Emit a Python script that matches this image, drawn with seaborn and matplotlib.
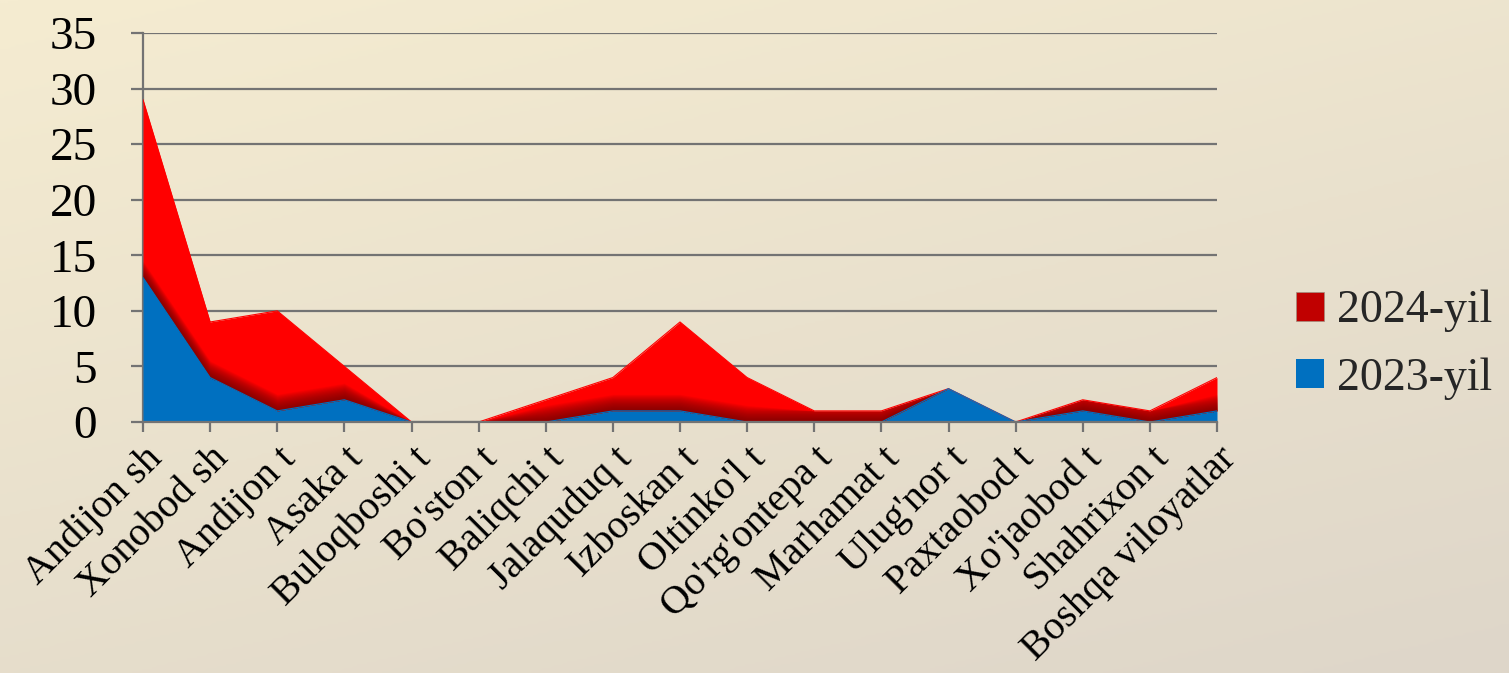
import numpy as np
import pandas as pd
import seaborn as sns
import matplotlib.pyplot as plt
from matplotlib.patches import Patch
from matplotlib.colors import LinearSegmentedColormap

# tumanlar / shaharlar
districts = ["Andijon sh", "Xonobod sh", "Andijon t", "Asaka t", "Buloqboshi t",
             "Bo'ston t", "Baliqchi t", "Jalaquduq t", "Izboskan t", "Oltinko'l t",
             "Qo'rg'ontepa t", "Marhamat t", "Ulug'nor t", "Paxtaobod t",
             "Xo'jaobod t", "Shahrixon t", "Boshqa viloyatlar"]
y2023 = [13, 4, 1, 2, 0, 0, 0, 1, 1, 0, 0, 0, 3, 0, 1, 0, 1]
y2024 = [16, 5, 9, 3, 0, 0, 2, 3, 8, 4, 1, 1, 0, 0, 1, 1, 3]
yticks = [0, 5, 10, 15, 20, 25, 30, 35]

df = pd.DataFrame({"pos": np.arange(len(districts)), "district": districts,
                   "2023-yil": y2023, "2024-yil": y2024})
df["top"] = df["2023-yil"] + df["2024-yil"]

sns.set_style("white")
plt.rcParams['font.family'] = ['Liberation Serif', 'DejaVu Serif']

blue = "#0070C0"
red = "#FF0000"
dark = "#6A0000"
grid_c = "#737373"

fig = plt.figure(figsize=(15.09, 6.73), dpi=100)

# background gradient
bg = fig.add_axes([0, 0, 1, 1], zorder=-10)
gx, gy = np.meshgrid(np.linspace(0, 1, 300), np.linspace(0, 1, 300))
g = 0.35 * gx + 0.65 * gy
bg_cmap = LinearSegmentedColormap.from_list("bg", ["#F5ECD1", "#DED6C9"])
bg.imshow(g, cmap=bg_cmap, aspect='auto', extent=[0, 1, 0, 1], origin='upper')
bg.axis('off')

ax = fig.add_axes([143 / 1509, 1 - 422 / 673, (1217 - 143) / 1509, (422 - 33) / 673])
ax.set_facecolor("none")

x = df["pos"].to_numpy()
lower = df["2023-yil"].to_numpy(dtype=float)
upper = df["top"].to_numpy(dtype=float)

ax.fill_between(x, 0, lower, color=blue, lw=0, zorder=3)
ax.fill_between(x, lower, upper, color=red, lw=0, zorder=3)
# darker shading along the lower edge of the red band
for k in range(1, 31):
    ax.fill_between(x, lower, np.minimum(lower + 0.05 * k, upper),
                    color=dark, alpha=0.045, lw=0, zorder=3)

sns.lineplot(data=df, x="pos", y="top", color=red, lw=0.8, ax=ax, zorder=4)
sns.lineplot(data=df, x="pos", y="2023-yil", color=blue, lw=0.8, ax=ax, zorder=4)

ax.set_xlim(0, len(districts) - 1)
ax.set_ylim(0, 35)
ax.set_yticks(yticks)
ax.set_yticklabels([str(v) for v in yticks], fontsize=34, color="black")
ax.set_xticks(x)
ax.set_xticklabels(districts, rotation=45, ha='right', rotation_mode='anchor',
                   fontsize=29, color="black")
ax.set_xlabel("")
ax.set_ylabel("")

ax.yaxis.grid(True, color=grid_c, lw=1.6, zorder=1)
ax.xaxis.grid(False)
for s in ["top", "right"]:
    ax.spines[s].set_visible(False)
for s in ["left", "bottom"]:
    ax.spines[s].set_color(grid_c)
    ax.spines[s].set_linewidth(1.6)
ax.spines["bottom"].set_zorder(5)
ax.tick_params(axis='y', length=9, width=1.6, color=grid_c, pad=24, left=True)
ax.tick_params(axis='x', length=7, width=1.6, color=grid_c, pad=6, bottom=True)

handles = [Patch(facecolor="#C00000", edgecolor="#A09080", lw=0.5, label="2024-yil"),
           Patch(facecolor=blue, edgecolor="none", label="2023-yil")]
fig.legend(handles=handles, loc='center left', bbox_to_anchor=(1296 / 1509, 1 - 345 / 673),
           frameon=False, fontsize=33, handlelength=0.6, handleheight=0.6,
           handletextpad=0.3, labelspacing=0.55, borderpad=0, borderaxespad=0)

fig.savefig("out.png", dpi=100, facecolor="#F0E8D0")
